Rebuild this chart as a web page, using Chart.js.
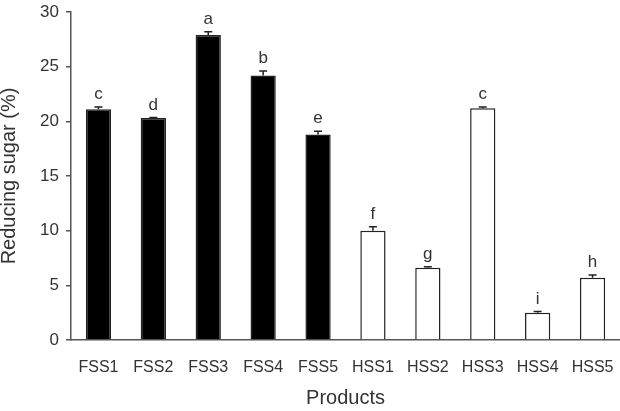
<!DOCTYPE html>
<html>
<head>
<meta charset="utf-8">
<script src="https://cdn.jsdelivr.net/npm/chart.js@4"></script>
<style>
    html, body { margin: 0; padding: 0; background: #fff; }
    #wrap { width: 620px; height: 411px; }
</style>
</head>
<body>
<div id="wrap"><canvas id="myChart"></canvas></div>
<script>
const products = ['FSS1', 'FSS2', 'FSS3', 'FSS4', 'FSS5', 'HSS1', 'HSS2', 'HSS3', 'HSS4', 'HSS5'];
const sugar = [21.1, 20.3, 27.9, 24.2, 18.8, 10.0, 6.6, 21.2, 2.5, 5.7];
const sugarErr = [0.2, 0.05, 0.3, 0.4, 0.3, 0.35, 0.1, 0.1, 0.1, 0.25];
const letters = ['c', 'd', 'a', 'b', 'e', 'f', 'g', 'c', 'i', 'h'];
const yTicks = [0, 5, 10, 15, 20, 25, 30];

const fills = products.map(p => p.startsWith('F') ? '#000' : '#fff');
const font = '"Liberation Sans", Arial, sans-serif';

// draws error bars + significance letters on top of each bar
const errorBars = {
    id: 'errorBars',
    afterDatasetsDraw(chart) {
        const c = chart.ctx;
        const meta = chart.getDatasetMeta(0);
        const y = chart.scales.y;
        c.save();
        c.strokeStyle = '#222';
        c.lineWidth = 1.5;
        c.fillStyle = '#333';
        c.font = '17px ' + font;
        c.textAlign = 'center';
        c.textBaseline = 'alphabetic';
        meta.data.forEach((bar, i) => {
            const top = y.getPixelForValue(sugar[i] + sugarErr[i]);
            const base = y.getPixelForValue(sugar[i]);
            c.beginPath();
            c.moveTo(bar.x, base);
            c.lineTo(bar.x, top);
            c.moveTo(bar.x - 4, top);
            c.lineTo(bar.x + 4, top);
            c.stroke();
            c.fillText(letters[i], bar.x, top - 8);
        });
        c.restore();
    }
};

const ctx = document.getElementById('myChart');

new Chart(ctx, {
    type: 'bar',
    data: {
        labels: products,
        datasets: [{
            data: sugar,
            backgroundColor: fills,
            borderColor: '#222',
            borderWidth: 1.5,
            barPercentage: 0.46,
            categoryPercentage: 1
        }]
    },
    options: {
        responsive: true,
        maintainAspectRatio: false,
        animation: false,
        layout: { padding: { top: 12, right: 0, left: 0, bottom: 0 } },
        plugins: {
            legend: { display: false },
            tooltip: { enabled: false }
        },
        scales: {
            y: {
                min: 0,
                max: 30,
                afterBuildTicks(scale) {
                    scale.ticks = yTicks.map(v => ({ value: v }));
                },
                afterFit(scale) {
                    scale.width = 71;
                    scale.paddingTop = 0;
                    scale.paddingBottom = 0;
                },
                grid: { drawOnChartArea: false, tickLength: 5, color: '#555', lineWidth: 1.5 },
                border: { color: '#555', width: 1.5 },
                ticks: {
                    color: '#333',
                    padding: 7,
                    font: { family: font, size: 17 }
                },
                title: {
                    display: true,
                    text: 'Reducing sugar (%)',
                    color: '#333',
                    padding: { top: -1, bottom: 0 },
                    font: { family: font, size: 20, lineHeight: 1 }
                }
            },
            x: {
                afterFit(scale) {
                    scale.height = 71;
                    scale.paddingLeft = 0;
                    scale.paddingRight = 0;
                },
                grid: { display: false },
                border: { color: '#555', width: 1.5 },
                ticks: {
                    color: '#333',
                    padding: 10,
                    maxRotation: 0,
                    font: { family: font, size: 16 }
                },
                title: {
                    display: true,
                    text: 'Products',
                    color: '#333',
                    padding: { top: 0, bottom: 1 },
                    font: { family: font, size: 20 }
                }
            }
        }
    },
    plugins: [errorBars]
});
</script>
</body>
</html>
